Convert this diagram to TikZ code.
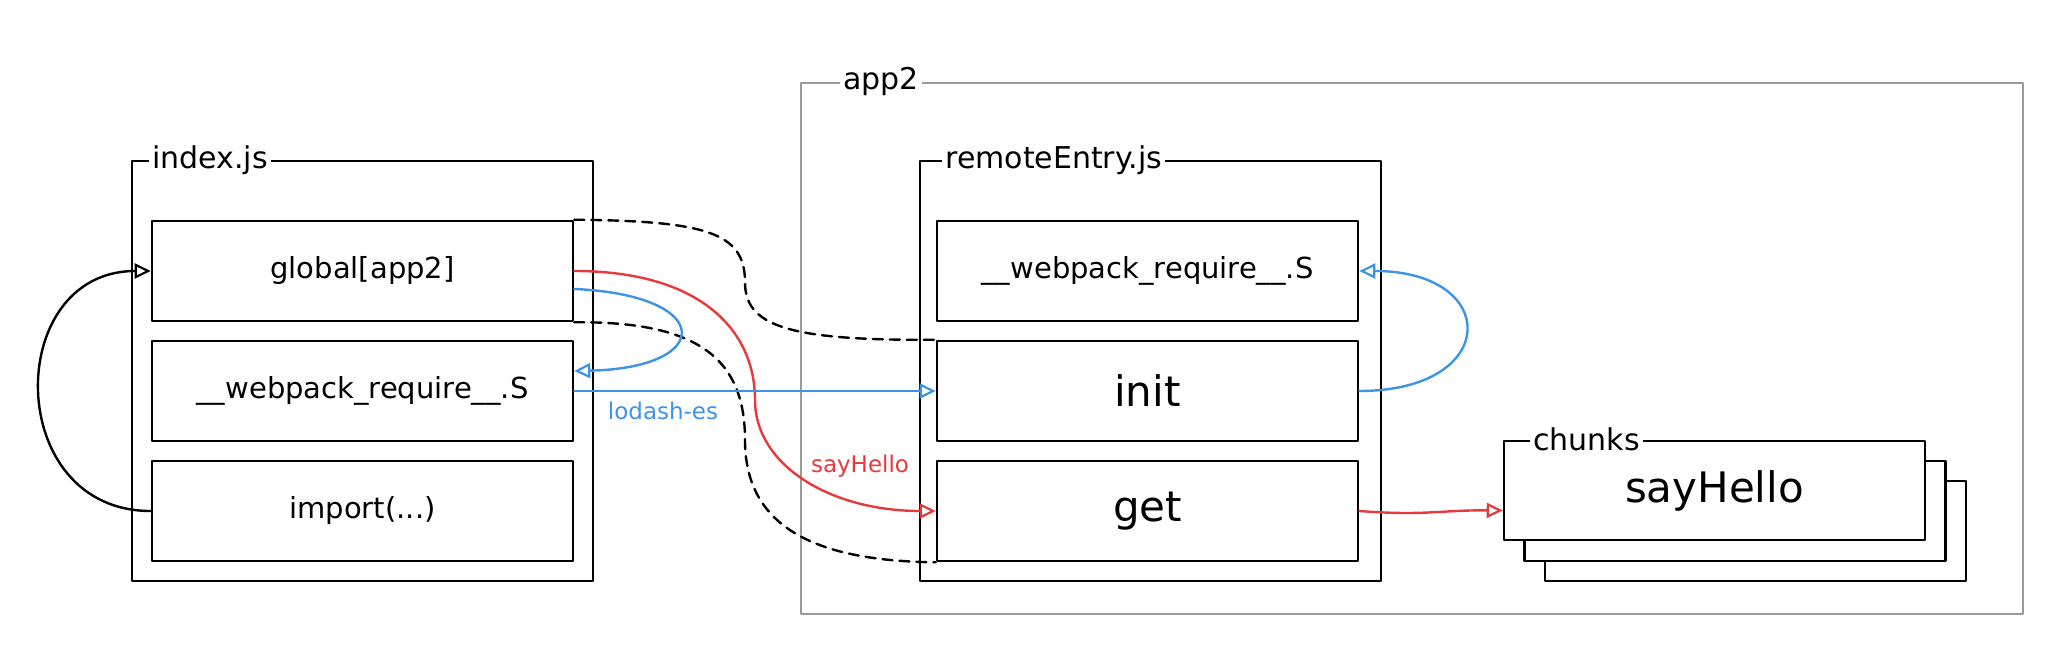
\documentclass[tikz,border=0pt]{standalone}
\usepackage{fontspec}
\setmainfont{DejaVu Sans}
\usetikzlibrary{arrows.meta}
\definecolor{xred}{HTML}{E8393A}
\definecolor{xblue}{HTML}{3D94E6}
\definecolor{xgray}{HTML}{9A9A9A}
\begin{document}
\begin{tikzpicture}[x=0.5pt,y=-0.5pt,line join=round,line cap=round,
  frame/.style={draw,line width=1.1pt,inner sep=0pt},
  grayframe/.style={draw=xgray,line width=1.2pt,inner sep=0pt},
  box/.style={draw,line width=1.3pt,fill=white,inner sep=0pt,minimum width=210.5pt,minimum height=50pt,font=\fontsize{14.5}{17}\selectfont},
  bigbox/.style={box,font=\fontsize{21}{25}\selectfont},
  flabel/.style={fill=white,inner xsep=1.5pt,inner ysep=1pt,anchor=west,font=\fontsize{15}{18}\selectfont},
  tiplook/.style={-{Triangle[open,length=8pt,width=7.5pt,line width=1.1pt]}},
  conn/.style={line width=1.2pt,tiplook},
  dashconn/.style={line width=1.2pt,dash pattern=on 5pt off 3.5pt},
  elabel/.style={font=\fontsize{11.5}{14}\selectfont}]
\useasboundingbox (0,0) rectangle (2060,656);

% frames
\node[grayframe,minimum width=611pt,minimum height=265.5pt] (app2) at (1412,348.5) {};
\node[frame,minimum width=230.5pt,minimum height=210pt] (indexjs) at (362.5,371) {};
\node[frame,minimum width=230.5pt,minimum height=210pt] (remote) at (1150.5,371) {};

% index.js boxes
\node[box] (global) at (362.5,271) {global[app2]};
\node[box] (lwp) at (362.5,391) {\_\_webpack\_require\_\_.S};
\node[box] (import) at (362.5,511) {import(...)};

% remoteEntry.js boxes
\node[box] (rwp) at (1147.5,271) {\_\_webpack\_require\_\_.S};
\node[bigbox] (init) at (1147.5,391) {init};
\node[bigbox] (get) at (1147.5,511) {get};

% chunks stack
\node[box] (back) at (1755.5,531) {};
\node[box] (middle) at (1735,511) {};
\node[bigbox,minimum height=49.5pt] (front) at (1714.5,490.5) {sayHello};

% frame labels
\node[flabel] (app2lbl) at ([xshift=20pt]app2.north west) {app2};
\node[flabel] (indexlbl) at ([xshift=9pt]indexjs.north west) {index.js};
\node[flabel] (remotelbl) at ([xshift=11.5pt]remote.north west) {remoteEntry.js};
\node[flabel] (chunkslbl) at ([xshift=13.5pt]front.north west) {chunks};

% connectors
\draw[conn] (import.west) .. controls (3,511) and (3,271) .. (global.west);

\draw[dashconn] (global.north east) .. controls (705,221) and (745,232) .. (745,282)
  .. controls (745,325) and (785,341) .. (init.north west);
\draw[dashconn] (global.south east) .. controls (700,321) and (745,360) .. (745,440)
  .. controls (745,530) and (820,561) .. (get.south west);

\draw[conn,xred] (global.east) .. controls (700,271) and (755,330) .. (755,400)
  .. controls (755,465) and (830,511) .. (get.west);
\node[elabel,text=xred] (sayhellolbl) at (860,466) {sayHello};

\draw[conn,xblue] ([yshift=-9pt]global.east) .. controls (715,295) and (715,368) .. ([yshift=10pt]lwp.east);
\draw[conn,xblue] (lwp.east) -- (init.west);
\node[elabel,text=xblue] (lodashlbl) at (663,411) {lodash-es};
\draw[conn,xblue] (init.east) .. controls (1501,391) and (1501,271) .. (rwp.east);

\draw[conn,xred] (get.east) .. controls (1425,516) and (1440,510) .. ([yshift=-10pt]front.west);
\end{tikzpicture}
\end{document}
